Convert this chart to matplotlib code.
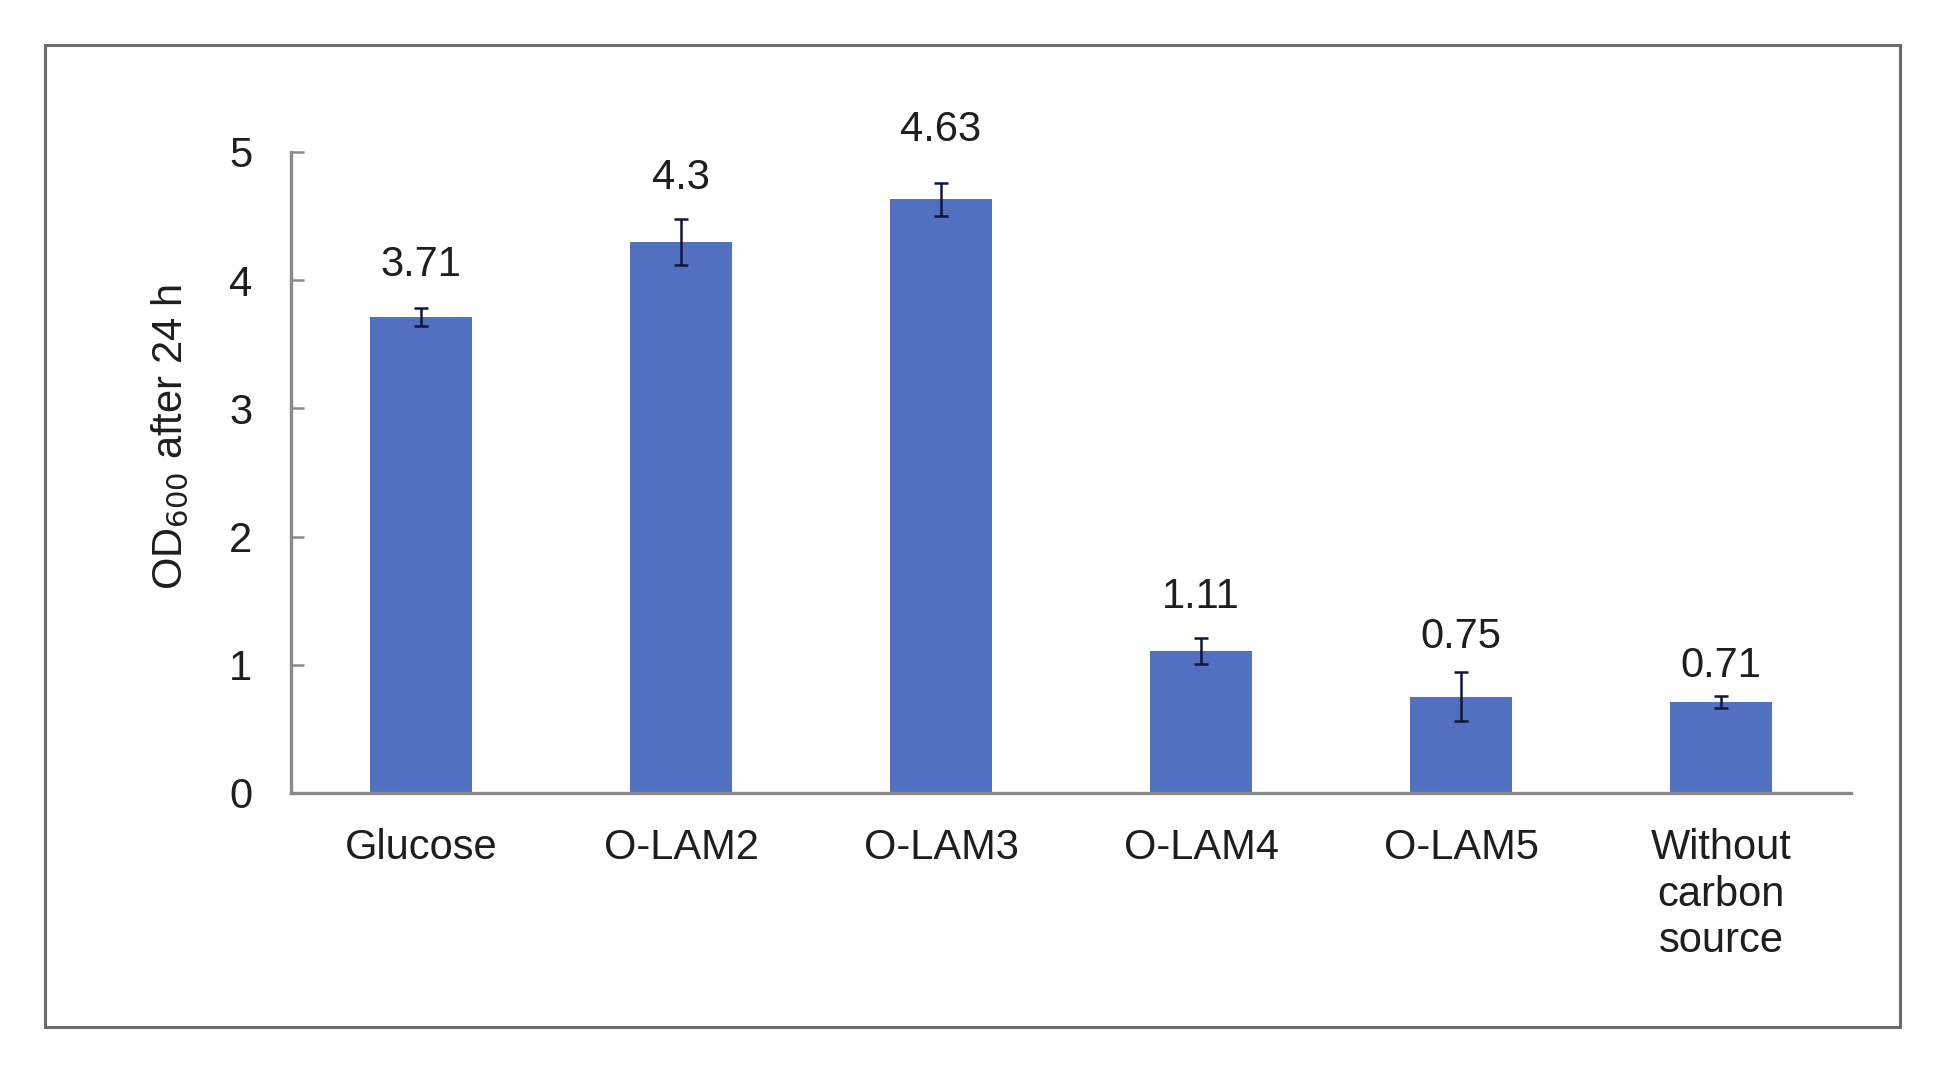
"""
OD600 after 24 h for different carbon sources, bar chart with error bars.
"""
from matplotlib import pyplot as plt
from matplotlib.patches import Rectangle
import numpy as np

plt.rcParams['font.family'] = ['Liberation Sans', 'DejaVu Sans']

# data
categories = ["Glucose", "O-LAM2", "O-LAM3", "O-LAM4", "O-LAM5", "Without\ncarbon\nsource"]
od600 = [3.71, 4.30, 4.63, 1.11, 0.75, 0.71]
od600_err = [0.07, 0.18, 0.13, 0.10, 0.19, 0.05]
value_labels = ["3.71", "4.3", "4.63", "1.11", "0.75", "0.71"]
# how far above the bar top each value label sits (data units)
label_pad = [0.41, 0.50, 0.54, 0.42, 0.47, 0.28]

bar_color = "#5270C0"
axis_color = "#8a8a8a"
text_color = "#1e1e1e"
fs = 30

fig = plt.figure(figsize=[19.59, 10.86], dpi=100, facecolor="white")
ax = fig.add_axes([291/1959, 1 - 793/1086, 1560/1959, 641/1086])

x = np.arange(len(categories))
ax.bar(x, od600, width=0.395, color=bar_color, zorder=2)
ax.errorbar(x, od600, yerr=od600_err, fmt="none", ecolor="#10163a",
            elinewidth=1.8, capsize=5, capthick=1.8, zorder=3)

for i in range(len(x)):
	ax.text(x[i], od600[i] + label_pad[i], value_labels[i], ha="center", va="center",
	        fontsize=fs, color=text_color)

ax.set_xlim(-0.5, len(categories) - 0.5)
ax.set_ylim(0, 5)
ax.set_yticks(np.arange(0, 6, 1))
ax.set_xticks(x)
ax.set_xticklabels(categories, fontsize=fs, color=text_color, linespacing=1.22)
ax.tick_params(axis="y", direction="in", length=9, width=1.8, color=axis_color,
               labelsize=fs, labelcolor=text_color, pad=28)
ax.tick_params(axis="x", length=0, pad=25)

for side in ["top", "right"]:
	ax.spines[side].set_visible(False)
for side in ["left", "bottom"]:
	ax.spines[side].set_color(axis_color)
	ax.spines[side].set_linewidth(2.4)

ax.set_ylabel("OD$_{600}$ after 24 h", fontsize=fs, color=text_color)
ax.yaxis.set_label_coords(-0.064, 0.555)

# grey frame round the whole chart
frame = Rectangle((45/1959, 1 - 1027/1086), (1900 - 45)/1959, (1027 - 45)/1086,
                  transform=fig.transFigure, fill=False, edgecolor="#6b6b6b", lw=2.2)
fig.patches.append(frame)

plt.savefig("out.png", dpi=100, facecolor="white")
